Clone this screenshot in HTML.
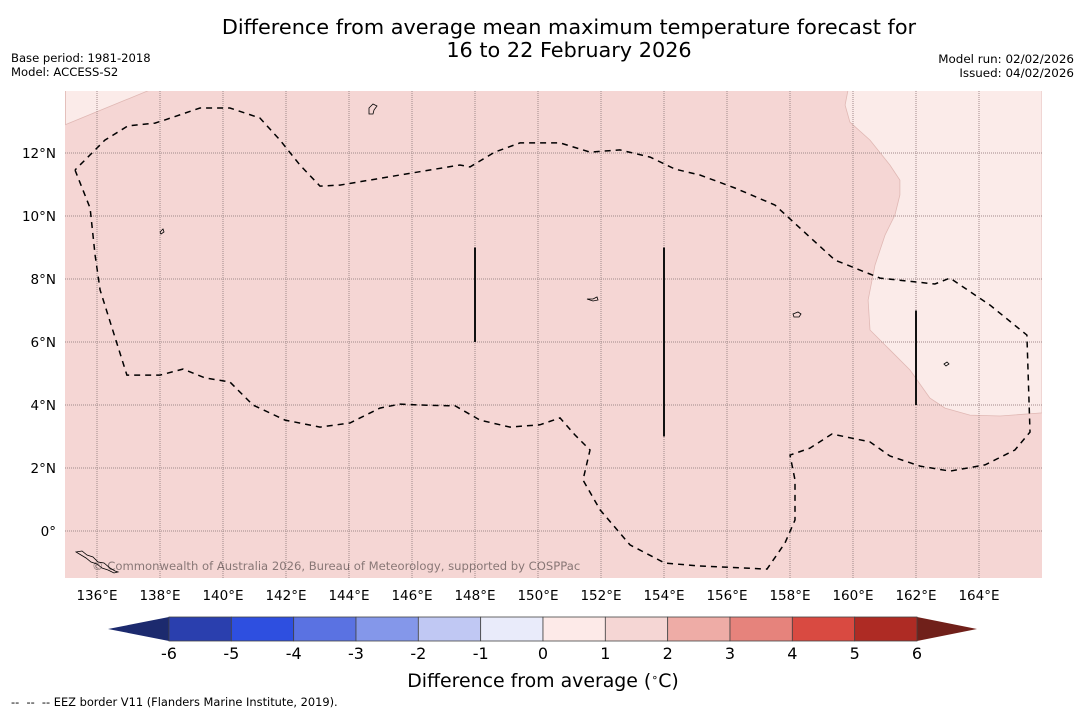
<!DOCTYPE html>
<html><head><meta charset="utf-8"><style>
body{margin:0;background:#fff;width:1085px;height:713px;overflow:hidden;font-family:"Liberation Sans","DejaVu Sans",sans-serif}
svg{display:block}
</style></head><body>
<svg id="chart" width="1085" height="713" viewBox="0 0 1085 713">
<g font-family="DejaVu Sans, Liberation Sans, sans-serif">
<text x="569" y="34" font-size="20.8" text-anchor="middle">Difference from average mean maximum temperature forecast for</text>
<text x="569" y="57" font-size="20.8" text-anchor="middle">16 to 22 February 2026</text>
<text x="11" y="62" font-size="11.6">Base period: 1981-2018</text>
<text x="11" y="76" font-size="11.6">Model: ACCESS-S2</text>
<text x="1074" y="63" font-size="11.9" text-anchor="end">Model run: 02/02/2026</text>
<text x="1074" y="77" font-size="11.9" text-anchor="end">Issued: 04/02/2026</text>
</g>
<defs><clipPath id="mapclip"><rect x="65" y="91" width="977" height="487"/></clipPath></defs>
<g id="map" clip-path="url(#mapclip)"></g>
<g id="axes" font-family="DejaVu Sans, Liberation Sans, sans-serif"></g>
<g id="cbar" font-family="DejaVu Sans, Liberation Sans, sans-serif"></g>
<text x="543" y="687" font-size="18.9" text-anchor="middle" font-family="DejaVu Sans, sans-serif">Difference from average (<tspan baseline-shift="super" font-size="11">∘</tspan>C)</text>
<text x="11" y="706" font-size="11.4" font-family="DejaVu Sans, sans-serif" xml:space="preserve">--  --  -- EEZ border V11 (Flanders Marine Institute, 2019).</text>
</svg>
<script>
const lonTicks=[136,138,140,142,144,146,148,150,152,154,156,158,160,162,164];
const latTicks=[0,2,4,6,8,10,12];
const eezLon=[135.30,135.78,135.94,136.10,136.95,138.00,138.73,139.43,140.22,140.95,141.97,143.08,144.03,144.98,145.62,146.25,147.37,148.16,149.11,150.06,150.70,151.17,151.65,151.43,151.97,152.92,154.03,155.14,157.27,157.84,158.16,158.16,158.00,158.63,159.33,160.54,161.17,162.13,163.08,164.19,165.14,165.62,165.52,164.35,163.08,162.60,160.86,159.43,158.63,157.52,156.25,155.14,154.35,153.56,152.60,151.65,150.70,149.43,148.63,147.84,147.52,145.62,143.71,143.08,142.44,141.81,141.17,140.22,139.27,138.16,137.84,136.98,136.25,135.78,135.30];
const eezLat=[11.46,10.25,8.76,7.65,4.95,4.95,5.14,4.86,4.73,4.00,3.52,3.30,3.43,3.90,4.03,4.00,3.97,3.52,3.30,3.37,3.59,3.05,2.57,1.62,0.67,-0.44,-1.02,-1.11,-1.21,-0.38,0.35,1.62,2.41,2.63,3.08,2.83,2.38,2.06,1.90,2.10,2.57,3.14,6.22,7.17,8.03,7.84,8.03,8.60,9.33,10.35,10.89,11.30,11.49,11.87,12.10,12.03,12.32,12.32,12.03,11.56,11.62,11.30,10.98,10.95,11.62,12.41,13.11,13.43,13.43,13.05,12.95,12.86,12.41,11.94,11.46];
const anomLon=[159.84,159.75,159.90,160.54,161.17,161.49,161.49,161.33,161.02,160.70,160.48,160.54,161.02,161.81,162.44,162.92,163.71,164.67,166.0,166.0];
const anomLat=[14.0,13.52,12.98,12.41,11.62,11.14,10.67,10.03,9.40,8.44,7.33,6.38,5.90,5.11,4.22,3.90,3.68,3.65,3.75,14.0];
const anomLon2=[135.0,137.68,135.0];
const anomLat2=[12.90,14.0,14.0];
const segLon=[148,154,162];
const segLat0=[6,3,4];
const segLat1=[9,9,7];
const cbVals=[-6,-5,-4,-3,-2,-1,0,1,2,3,4,5,6];
const cbColors=['#2a3fae','#2e4fe0','#5a72e2','#8497ea','#c0c8f3','#e9ebfa','#fdeae8','#f5d6d4','#eeaca6','#e6837c','#d94a41','#ae2b24'];
const NS='http://www.w3.org/2000/svg';
const X=lon=>97+(lon-136)*31.5, Y=lat=>531-lat*31.5;
function mk(parent,tag,attrs){const e=document.createElementNS(NS,tag);for(const k in attrs)e.setAttribute(k,attrs[k]);parent.appendChild(e);return e;}
const map=document.getElementById('map');
let bg=mk(map,'rect',{x:65,y:91,width:977,height:487,fill:'#f5d6d4'});


function poly(lons,lats){return lons.map((l,i)=>X(l).toFixed(1)+','+Y(lats[i]).toFixed(1)).join(' ');}
let a1=mk(map,'polygon',{points:poly(anomLon,anomLat),fill:'#fbebe9',stroke:'#e0b8b4','stroke-width':0.8});


let a2=mk(map,'polygon',{points:poly(anomLon2,anomLat2),fill:'#fbebe9',stroke:'#e0b8b4','stroke-width':0.8});


lonTicks.forEach(l=>{let g=mk(map,'line',{x1:X(l),x2:X(l),y1:91,y2:578,stroke:'#a08a8a','stroke-width':1,'stroke-dasharray':'1,1'});

});
latTicks.forEach(l=>{let g=mk(map,'line',{x1:65,x2:1042,y1:Y(l),y2:Y(l),stroke:'#a08a8a','stroke-width':1,'stroke-dasharray':'1,1'});

});
let eez=mk(map,'polyline',{points:poly(eezLon,eezLat),fill:'none',stroke:'#000','stroke-width':1.5,'stroke-dasharray':'6,5'});


segLon.forEach((l,i)=>{let s=mk(map,'line',{x1:X(l),x2:X(l),y1:Y(segLat0[i]),y2:Y(segLat1[i]),stroke:'#111','stroke-width':2});

});
let isl=mk(map,'path',{d:'M76,552 l6,-1 5,4 6,2 5,5 6,1 6,5 5,3 3,1 -4,1 -6,-3 -6,-2 -5,-4 -6,-2 -5,-4 z M369,108 l4,-4 4,2 -3,4 -1,4 -4,0 z M160,232 l3,-3 1,3 -3,2z M587,299 l6,0 4,-2 1,3 -5,1z M793,314 l5,-2 3,2 -2,3 -5,0z M944,364 l3,-2 2,2 -3,2z',fill:'none',stroke:'#000','stroke-width':0.8});


let cr=mk(map,'text',{x:92,y:570,'font-size':11.6,fill:'#000','fill-opacity':0.45,'font-family':'DejaVu Sans, sans-serif'});
cr.textContent='© Commonwealth of Australia 2026, Bureau of Meteorology, supported by COSPPac';


const axes=document.getElementById('axes');
lonTicks.forEach(l=>{let t=mk(axes,'text',{x:X(l),y:600,'font-size':13.5,'text-anchor':'middle'});t.textContent=l+'°E';

});
latTicks.forEach(l=>{let t=mk(axes,'text',{x:56,y:Y(l)+5,'font-size':13.5,'text-anchor':'end'});t.textContent=l===0?'0°':l+'°N';

});
const cb=document.getElementById('cbar');
const cx=v=>169+(v+6)*(748/12), cy0=617, cy1=641;
let lt=mk(cb,'polygon',{points:`${cx(-6)},${cy0} ${cx(-6)},${cy1} 108,629`,fill:'#1c2a6e'});


let rt=mk(cb,'polygon',{points:`${cx(6)},${cy0} ${cx(6)},${cy1} 977,629`,fill:'#70201a'});


cbColors.forEach((c,i)=>{let r=mk(cb,'rect',{x:cx(cbVals[i]),y:cy0,width:cx(cbVals[i+1])-cx(cbVals[i]),height:cy1-cy0,fill:c,stroke:'#444','stroke-width':0.8});

});
cbVals.forEach(v=>{let t=mk(cb,'text',{x:cx(v),y:659,'font-size':16,'text-anchor':'middle'});t.textContent=v;

});
</script>
</body></html>
